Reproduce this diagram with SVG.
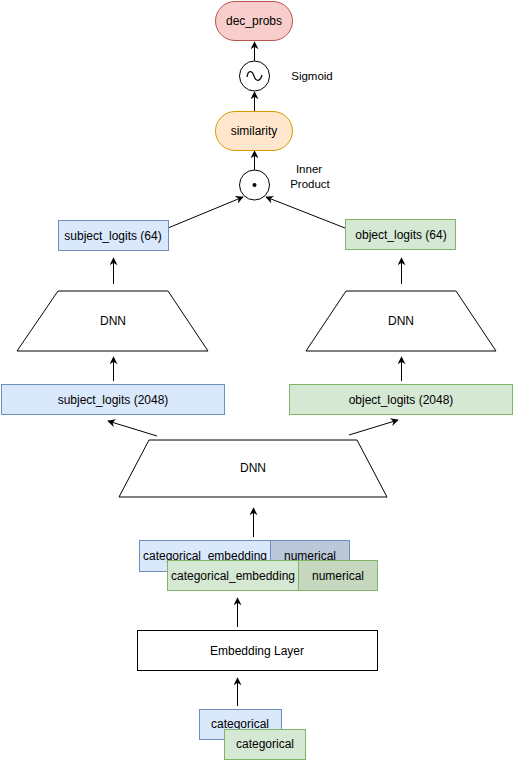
<svg xmlns="http://www.w3.org/2000/svg" width="513" height="760" viewBox="0 0 513 760">
<defs>
<marker id="arr" viewBox="0 0 10 10" refX="9" refY="5" markerWidth="8" markerHeight="8" markerUnits="userSpaceOnUse" orient="auto">
<path d="M0,0 L10,5 L0,10 L3,5 Z" fill="#000"/>
</marker>
<style>
text{font-family:"Liberation Sans",Arial,sans-serif;font-size:12px;fill:#000;text-anchor:middle;dominant-baseline:central}
.blue{fill:#dae8fc;stroke:#6c8ebf;stroke-width:1}
.green{fill:#d5e8d4;stroke:#82b366;stroke-width:1}
.blued{fill:#bbc8da;stroke:#6c8ebf;stroke-width:1}
.greend{fill:#c5d7bf;stroke:#82b366;stroke-width:1}
.plain{fill:#fff;stroke:#000;stroke-width:1}
.edge{fill:none;stroke:#000;stroke-width:1;marker-end:url(#arr)}
.lbl{font-size:11.5px}
</style>
</defs>
<rect width="513" height="760" fill="#fff"/>
<g id="connectors">
<line class="edge" x1="254.5" y1="61" x2="254.5" y2="42"/>
<line class="edge" x1="254.5" y1="111" x2="254.5" y2="92"/>
<line class="edge" x1="254.5" y1="170" x2="254.5" y2="151"/>
<line class="edge" x1="168" y1="228" x2="243" y2="197"/>
<line class="edge" x1="345" y1="228" x2="266" y2="197"/>
<line class="edge" x1="113.5" y1="284" x2="113.5" y2="258"/>
<line class="edge" x1="401.5" y1="284" x2="401.5" y2="258"/>
<line class="edge" x1="113.5" y1="381" x2="113.5" y2="357"/>
<line class="edge" x1="401.5" y1="381" x2="401.5" y2="357"/>
<line class="edge" x1="157" y1="436" x2="108" y2="421"/>
<line class="edge" x1="349" y1="435" x2="398" y2="420"/>
<line class="edge" x1="253.5" y1="537" x2="253.5" y2="508"/>
<line class="edge" x1="237.5" y1="627" x2="237.5" y2="598"/>
<line class="edge" x1="237.5" y1="706" x2="237.5" y2="678"/>
</g>
<g id="dec_probs">
<rect x="215.5" y="1.5" width="77" height="39" rx="19.5" fill="#f8cecc" stroke="#b85450"/>
<text x="254" y="21">dec_probs</text>
</g>
<g id="sigmoid">
<circle cx="254.5" cy="76" r="15" class="plain"/>
<path d="M247,77 C248,70 252,70 254,76 C256,82 260,82 262,75" fill="none" stroke="#000" stroke-width="1.2"/>
<text x="312" y="76" class="lbl">Sigmoid</text>
</g>
<g id="similarity">
<rect x="215.5" y="111.5" width="77" height="39" rx="19.5" fill="#ffe6cc" stroke="#d79b00"/>
<text x="254" y="131">similarity</text>
</g>
<g id="inner_product">
<circle cx="254.5" cy="185" r="15" class="plain"/>
<circle cx="254.5" cy="185" r="2" fill="#000"/>
<text x="309" y="169" class="lbl">Inner</text>
<text x="310" y="184" class="lbl">Product</text>
</g>
<g id="subject_logits_64">
<rect x="58.5" y="220.5" width="110" height="30" class="blue"/>
<text x="113" y="236">subject_logits (64)</text>
</g>
<g id="object_logits_64">
<rect x="345.5" y="219.5" width="110" height="30" class="green"/>
<text x="401" y="235">object_logits (64)</text>
</g>
<g id="dnn_left">
<path d="M58,291 L168,291 L208,351 L17,351 Z" class="plain"/>
<text x="113" y="321">DNN</text>
</g>
<g id="dnn_right">
<path d="M346,291 L456,291 L496,351 L306,351 Z" class="plain"/>
<text x="401" y="321">DNN</text>
</g>
<g id="subject_logits_2048">
<rect x="1.5" y="384.5" width="223" height="30" class="blue"/>
<text x="113" y="400">subject_logits (2048)</text>
</g>
<g id="object_logits_2048">
<rect x="289.5" y="384.5" width="223" height="30" class="green"/>
<text x="401" y="400">object_logits (2048)</text>
</g>
<g id="dnn_mid">
<path d="M149,440 L357,440 L387,497 L119,497 Z" class="plain"/>
<text x="253" y="468">DNN</text>
</g>
<g id="features_blue">
<rect x="139.5" y="540.5" width="131" height="31" class="blue"/>
<rect x="270.5" y="540.5" width="79" height="31" class="blued"/>
<text x="205" y="556">categorical_embedding</text>
<text x="310" y="556">numerical</text>
</g>
<g id="features_green">
<rect x="167.5" y="560.5" width="131" height="30" class="green"/>
<rect x="298.5" y="560.5" width="79" height="30" class="greend"/>
<text x="233" y="576">categorical_embedding</text>
<text x="338" y="576">numerical</text>
</g>
<g id="embedding_layer">
<rect x="137.5" y="630.5" width="240" height="40" class="plain"/>
<text x="257" y="651">Embedding Layer</text>
</g>
<g id="categorical_blue">
<rect x="199.5" y="709.5" width="82" height="30" class="blue"/>
<text x="240" y="724">categorical</text>
</g>
<g id="categorical_green">
<rect x="224.5" y="729.5" width="81" height="30" class="green"/>
<text x="265" y="744">categorical</text>
</g>
</svg>
